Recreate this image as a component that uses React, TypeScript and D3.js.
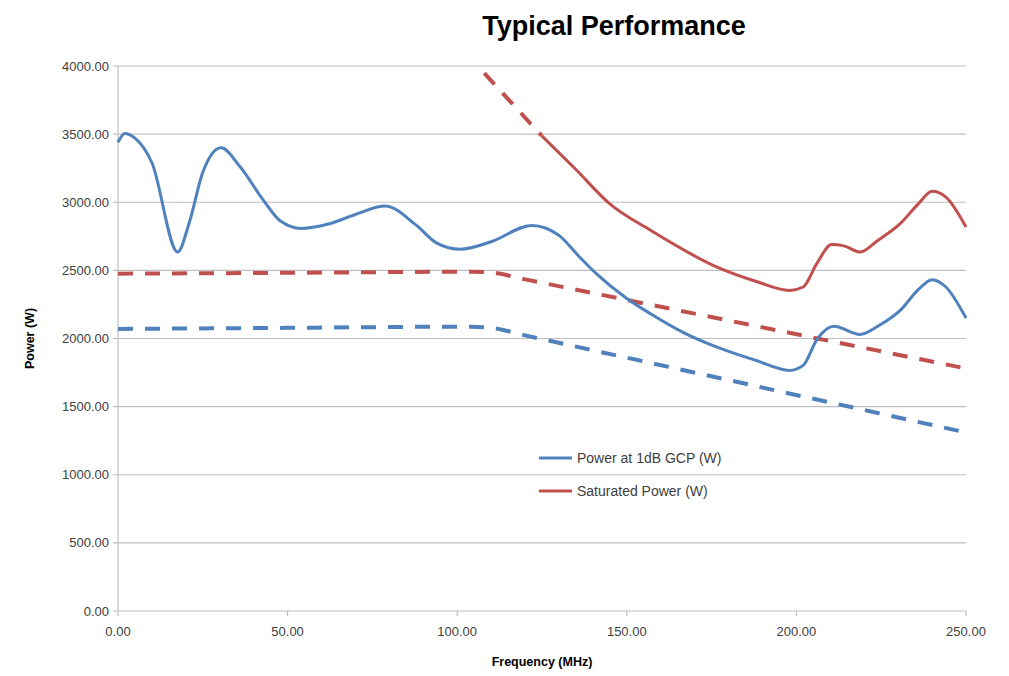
import React, { useEffect } from "react";
import * as d3 from "d3";

// frequency (MHz), power (W)
const power1dB: [number, number][] = [
  [0, 3440], [2, 3505], [5, 3470], [10, 3290], [17.6, 2635], [21, 2850],
  [25, 3220], [30.4, 3400], [36, 3260], [43, 3010], [48, 2860], [54, 2808], [62, 2840],
  [70, 2910], [78.7, 2972], [88, 2830], [94, 2700], [100.8, 2655], [110, 2710],
  [122, 2830], [130, 2757], [136, 2600], [141, 2476], [150, 2294], [157, 2182], [167, 2040],
  [176.6, 1937], [188, 1840], [198, 1766], [202, 1803], [206, 1990], [211, 2089],
  [218.8, 2030], [224, 2090], [230.6, 2206], [236, 2360], [240, 2432], [244, 2380],
  [250, 2150],
];

const saturatedHead: [number, number][] = [[108, 3947], [124.8, 3491]];
const saturated: [number, number][] = [
  [124.8, 3491], [135, 3240], [144.9, 2990], [157, 2794],
  [176.6, 2524], [188, 2420], [198, 2353], [202, 2378], [206, 2549], [210.4, 2689],
  [214, 2680], [218.8, 2634], [224, 2720], [230.6, 2843], [236, 2990], [240, 3080],
  [244, 3040], [250, 2818],
];

const rated1dB: [number, number][] = [
  [0, 2070], [50, 2078], [104, 2087], [110, 2078], [120, 2023], [180, 1695], [250, 1310],
];
const ratedSat: [number, number][] = [
  [0, 2476], [50, 2482], [104, 2490], [110, 2484], [120, 2434], [180, 2132], [250, 1780],
];

const xTicks = [0, 50, 100, 150, 200, 250];
const yTicks = [0, 500, 1000, 1500, 2000, 2500, 3000, 3500, 4000];

const legendItems = [
  { label: "Power at 1dB GCP (W)", color: "#4F81BD" },
  { label: "Saturated Power (W)", color: "#C0504D" },
];

const BLUE = "#4F81BD";
const RED = "#C0504D";
const FONT = "'Liberation Sans', Arial, sans-serif";

export default function App() {
  useEffect(() => {
    document.body.style.margin = "0";
  }, []);

  const width = 1009;
  const height = 676;
  const left = 118, right = 966, top = 66, bottom = 611;

  const x = d3.scaleLinear().domain([0, 250]).range([left, right]);
  const y = d3.scaleLinear().domain([0, 4000]).range([bottom, top]);

  const line = d3
    .line<[number, number]>()
    .x((d) => x(d[0]))
    .y((d) => y(d[1]))
    .curve(d3.curveMonotoneX);

  const dash = "15,12";

  return (
    <svg width={width} height={height} style={{ display: "block", background: "#fff" }}>
      <text x={614} y={35} textAnchor="middle" fontFamily={FONT} fontWeight="bold" fontSize={27} fill="#000">
        Typical Performance
      </text>

      {yTicks.map((t) => (
        <g key={t}>
          <line x1={left - 5} x2={right} y1={y(t)} y2={y(t)} stroke="#BFBFBF" strokeWidth={1.2} />
          <text x={left - 9} y={y(t) + 4.5} textAnchor="end" fontFamily={FONT} fontSize={13} fill="#404040">
            {t.toFixed(2)}
          </text>
        </g>
      ))}
      <line x1={left} x2={left} y1={top} y2={bottom} stroke="#BFBFBF" strokeWidth={1.2} />
      {xTicks.map((t) => (
        <g key={t}>
          <line x1={x(t)} x2={x(t)} y1={bottom} y2={bottom + 5} stroke="#BFBFBF" strokeWidth={1.2} />
          <text x={x(t)} y={bottom + 25} textAnchor="middle" fontFamily={FONT} fontSize={13} fill="#404040">
            {t.toFixed(2)}
          </text>
        </g>
      ))}

      <text x={542} y={666} textAnchor="middle" fontFamily={FONT} fontWeight="bold" fontSize={12.5} fill="#000">
        Frequency (MHz)
      </text>
      <text
        transform={`translate(34, ${(top + bottom) / 2}) rotate(-90)`}
        textAnchor="middle"
        fontFamily={FONT}
        fontWeight="bold"
        fontSize={12.5}
        fill="#000"
      >
        Power (W)
      </text>

      <path d={line(ratedSat) ?? ""} fill="none" stroke={RED} strokeWidth={4} strokeDasharray={dash} />
      <path d={line(rated1dB) ?? ""} fill="none" stroke={BLUE} strokeWidth={4} strokeDasharray={dash} />
      <path d={line(saturatedHead) ?? ""} fill="none" stroke={RED} strokeWidth={4} strokeDasharray={dash} />
      <path d={line(saturated) ?? ""} fill="none" stroke={RED} strokeWidth={3} />
      <path d={line(power1dB) ?? ""} fill="none" stroke={BLUE} strokeWidth={3} />

      {legendItems.map((item, i) => (
        <g key={item.label} transform={`translate(539, ${458 + i * 33})`}>
          <line x1={0} x2={33} y1={0} y2={0} stroke={item.color} strokeWidth={3} />
          <text x={38} y={5} fontFamily={FONT} fontSize={14} fill="#404040">
            {item.label}
          </text>
        </g>
      ))}
    </svg>
  );
}
